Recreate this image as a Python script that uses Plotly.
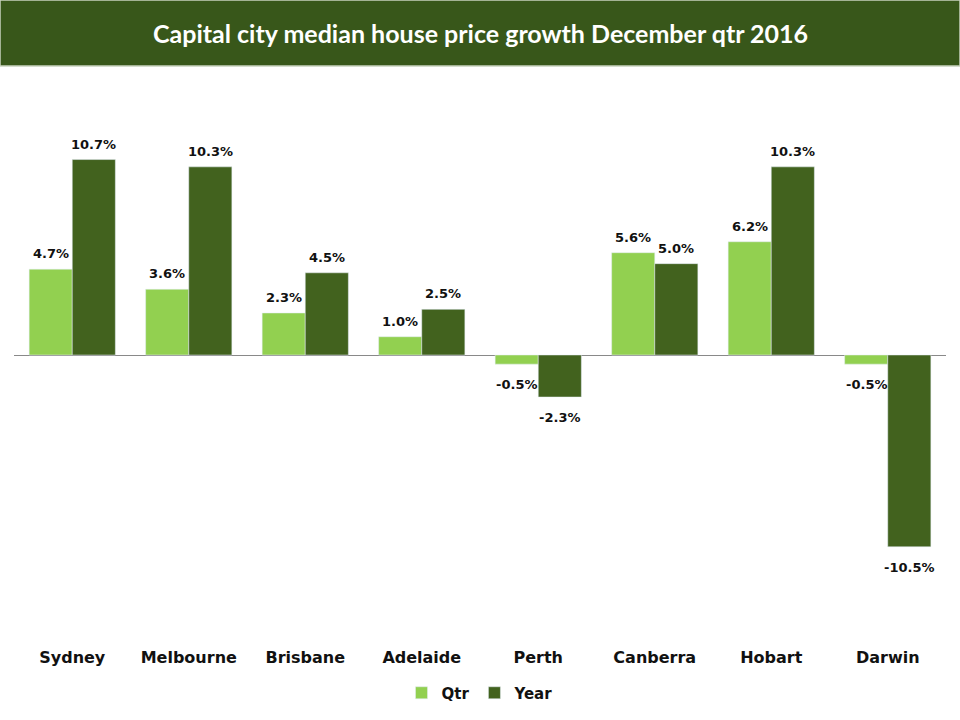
import plotly.graph_objects as go

cities = ["Sydney", "Melbourne", "Brisbane", "Adelaide", "Perth", "Canberra", "Hobart", "Darwin"]
qtr = [4.7, 3.6, 2.3, 1.0, -0.5, 5.6, 6.2, -0.5]
year = [10.7, 10.3, 4.5, 2.5, -2.3, 5.0, 10.3, -10.5]

QTR_COLOR = "#92D050"
YEAR_COLOR = "#42621E"
TITLE_BG = "#38571A"

label_font = dict(family="DejaVu Sans", size=13, color="#111111")

fig = go.Figure()
fig.add_trace(go.Bar(x=cities, y=qtr, name="<b>Qtr</b>", marker_color=QTR_COLOR))
fig.add_trace(go.Bar(x=cities, y=year, name="<b>Year</b>", marker_color=YEAR_COLOR))

# data labels, placed at each bar's value through the axes
half_bar_px = 116.5 * 0.74 / 4
annotations = []
for series, side in ((qtr, -1), (year, 1)):
    for city, v in zip(cities, series):
        annotations.append(dict(
            x=city, y=v, xref="x", yref="y", text=f"<b>{v:.1f}%</b>",
            showarrow=False, xanchor="center",
            yanchor="bottom" if v >= 0 else "top",
            xshift=side * half_bar_px, yshift=6 if v >= 0 else -11,
            font=label_font,
        ))

annotations.append(dict(text="<b>Capital city median house price growth December qtr 2016</b>",
                        xref="paper", yref="paper", x=0.5, y=1 + 48/548,
                        xanchor="center", yanchor="middle", showarrow=False,
                        font=dict(family="Lato", size=25, color="white")))

fig.update_layout(
    width=960, height=720,
    paper_bgcolor="white", plot_bgcolor="white",
    margin=dict(l=14, r=14, t=81, b=91, autoexpand=False),
    barmode="group", bargap=0.26, bargroupgap=0,
    showlegend=True,
    legend=dict(orientation="h", x=0.5, xanchor="center",
                yref="container", y=(720 - 693) / 720, yanchor="middle",
                font=dict(family="DejaVu Sans", size=15, color="#111111"),
                traceorder="normal"),
    shapes=[dict(type="rect", xref="paper", yref="paper",
                 x0=-14/932, x1=1 + 14/932, y0=1 + 15/548, y1=1 + 81/548,
                 fillcolor=TITLE_BG, line=dict(color="#C8D2BE", width=1.5), layer="below")],
    annotations=annotations,
    font=dict(family="DejaVu Sans"),
)
fig.update_xaxes(showline=False, showgrid=False, ticks="", automargin=False,
                 tickfont=dict(family="DejaVu Sans", size=16, color="#111111"),
                 ticklabelstandoff=17,
                 tickvals=cities, ticktext=[f"<b>{c}</b>" for c in cities])
fig.update_yaxes(range=[-15, 15], showgrid=False, showticklabels=False, ticks="",
                 automargin=False,
                 zeroline=True, zerolinecolor="#898989", zerolinewidth=1.2, showline=False)

fig.write_html("out.html", config={"displayModeBar": False},
               post_script="document.body.style.margin='0';")
